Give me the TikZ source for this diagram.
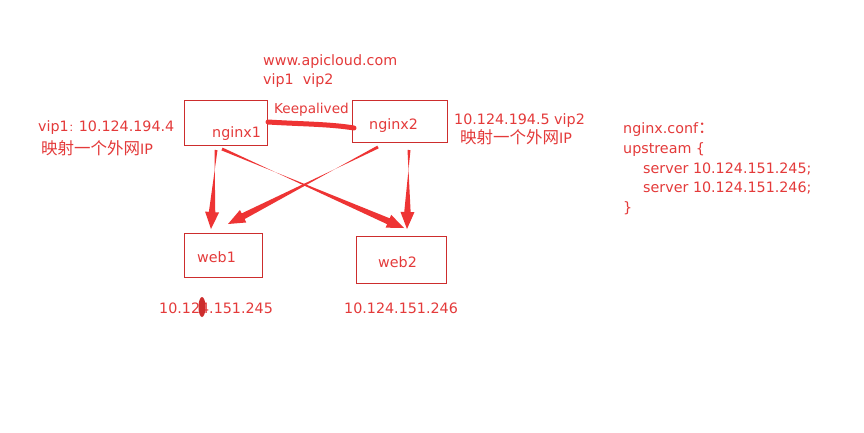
\documentclass[tikz,border=0pt]{standalone}
\usepackage{fontspec}
\setmainfont{DejaVu Sans}
\newfontfamily\cjk{Noto Sans CJK SC}
\usetikzlibrary{calc}
\definecolor{txt}{RGB}{228,58,58}
\definecolor{boxc}{RGB}{205,45,45}
\definecolor{arr}{RGB}{238,52,52}
\newcommand\zh[1]{{\cjk\fontsize{16.5}{18}\selectfont #1}}
\newcommand\taperarrow[2]{%
  \path ($(#2)!17pt!(#1)$) coordinate (hb);
  \fill[arr] ($(#1)!1.5pt!90:(#2)$) -- ($(hb)!3.2pt!-90:(#2)$) -- ($(hb)!7pt!-90:(#2)$)
     -- (#2) -- ($(hb)!7pt!90:(#2)$) -- ($(hb)!3.2pt!90:(#2)$) -- ($(#1)!1.5pt!-90:(#2)$) -- cycle;}
\begin{document}
\begin{tikzpicture}[x=1pt,y=-1pt,
  lbl/.style={anchor=base west,inner sep=0pt,text=txt,font=\fontsize{14.3}{16}\selectfont},
  srv/.style={draw=boxc,line width=0.9pt,inner sep=0pt,anchor=north west}]
\useasboundingbox[fill=white] (0,0) rectangle (864,432);
% boxes
\node[srv,minimum width=83pt,minimum height=45pt] (n1) at (184,100) {};
\node[srv,minimum width=95pt,minimum height=42pt] (n2) at (352,100) {};
\node[srv,minimum width=78pt,minimum height=44pt] (w1) at (184,233) {};
\node[srv,minimum width=90pt,minimum height=47pt] (w2) at (356,236) {};
% labels
\node[lbl] (t1) at (263,65) {www.apicloud.com};
\node[lbl] (t2) at (263,84) {vip1\ \ vip2};
\node[lbl,font=\fontsize{13.6}{16}\selectfont] (ka) at (274,113) {Keepalived};
\node[lbl] (ln1) at (212,137) {nginx1};
\node[lbl] (ln2) at (369,129) {nginx2};
\node[lbl] (v1) at (38,131) {vip1{\cjk\fontsize{10}{12}\selectfont ：}10.124.194.4};
\node[lbl] (m1) at (41,154) {\zh{映射一个外网}IP};
\node[lbl] (v2) at (454,124) {10.124.194.5 vip2};
\node[lbl] (m2) at (460,143) {\zh{映射一个外网}IP};
\node[lbl] (c1) at (623,133) {nginx.conf\zh{：}};
\node[lbl] (c2) at (623,153) {upstream \{};
\node[lbl] (c3) at (643,173) {server 10.124.151.245;};
\node[lbl] (c4) at (643,192) {server 10.124.151.246;};
\node[lbl] (c5) at (623,212) {\}};
\node[lbl] (lw1) at (197,262) {web1};
\node[lbl] (lw2) at (378,267) {web2};
\node[lbl] (ip1) at (159,313) {10.124.151.245};
\node[lbl] (ip2) at (344,313) {10.124.151.246};
% blob over the address
\fill[boxc] (202,307) ellipse (3.5pt and 10pt);
% keepalived stroke
\coordinate (ka1) at (268,122);
\coordinate (ka2) at (354,128);
\draw[arr,line width=5pt,line cap=round] (ka1) .. controls (300,124) and (330,124) .. (ka2);
% arrows
\coordinate (a1s) at (216,150); \coordinate (a1e) at (211,229);
\coordinate (a2s) at (222,149); \coordinate (a2e) at (404,228);
\coordinate (a3s) at (378,147); \coordinate (a3e) at (228,224);
\coordinate (a4s) at (409,150); \coordinate (a4e) at (407,229);
\taperarrow{a1s}{a1e}
\taperarrow{a2s}{a2e}
\taperarrow{a3s}{a3e}
\taperarrow{a4s}{a4e}
\end{tikzpicture}
\end{document}
